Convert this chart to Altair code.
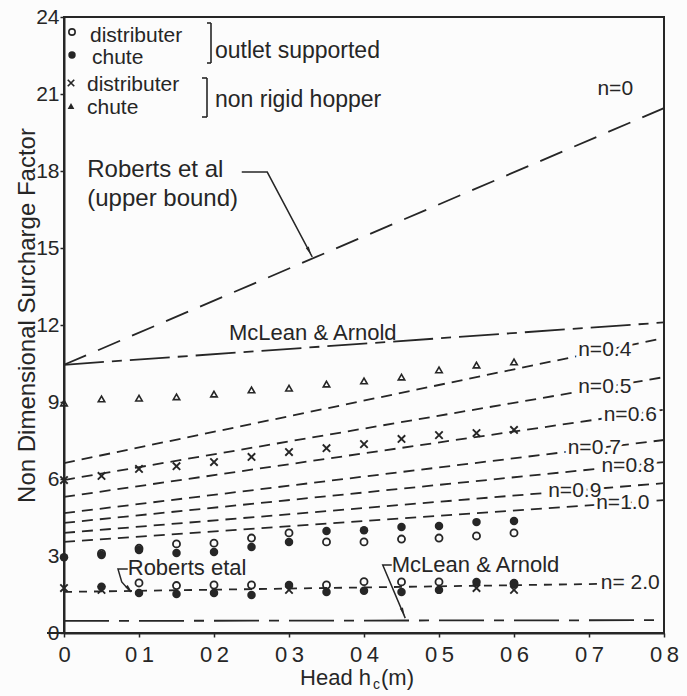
import altair as alt
import pandas as pd

FONT = "Liberation Sans"
INK = "#262626"
BG = "#fcfcfc"

# ---------------------------------------------------------------
# Theory lines (straight): surcharge factor at h = 0 and h = 0.8 m
# ---------------------------------------------------------------
line_names = ["n=0", "McLean & Arnold", "n=0.4", "n=0.5", "n=0.6", "n=0.7",
              "n=0.8", "n=0.9", "n=1.0", "n=2.0", "McLean & Arnold (lower)"]
line_h = [0.0, 0.8]
line_start = [10.45, 10.45, 6.62, 5.96, 5.30, 4.67, 4.29, 3.90, 3.55, 1.60, 0.47]
line_end = [20.45, 12.10, 11.49, 9.97, 8.70, 7.52, 6.66, 5.84, 5.18, 1.95, 0.50]
line_dash = [[24, 13], [40, 8, 10, 8], [11, 7], [11, 7], [11, 7], [11, 7],
             [11, 7], [11, 7], [11, 7], [8, 7], [45, 10, 10, 10]]

# Labels written on the n-lines (h position of label centre)
n_labels = ["n=0", "n=0.4", "n=0.5", "n=0.6", "n=0.7", "n=0.8", "n=0.9", "n=1.0", "n= 2.0"]
n_label_line = ["n=0", "n=0.4", "n=0.5", "n=0.6", "n=0.7", "n=0.8", "n=0.9", "n=1.0", "n=2.0"]
n_label_h = [0.735, 0.721, 0.721, 0.755, 0.707, 0.752, 0.681, 0.745, 0.755]
n_label_lift = [1.55, 0.0, 0.0, 0.0, 0.0, 0.0, 0.0, 0.0, 0.0]

# ---------------------------------------------------------------
# Measured surcharge factors
# ---------------------------------------------------------------
h_all = [0.0, 0.05, 0.10, 0.15, 0.20, 0.25, 0.30, 0.35, 0.40, 0.45, 0.50, 0.55, 0.60]

# non rigid hopper, chute filling
nr_chute = [8.96, 9.12, 9.15, 9.20, 9.31, 9.47, 9.54, 9.70, 9.82, 9.97, 10.25, 10.44, 10.56]
# non rigid hopper, distributer filling
nr_dist = [5.96, 6.12, 6.39, 6.50, 6.66, 6.86, 7.05, 7.20, 7.36, 7.56, 7.71, 7.79, 7.91]
nr_dist_low_h = [0.0, 0.05, 0.30, 0.55, 0.60]
nr_dist_low = [1.75, 1.68, 1.68, 1.75, 1.68]

# outlet supported, chute filling
os_chute = [2.95, 3.04, 3.23, 3.12, 3.16, 3.35, 3.55, 3.97, 4.00, 4.13, 4.17, 4.32, 4.36]
os_chute_low_h = [0.05, 0.10, 0.15, 0.20, 0.25, 0.30, 0.35, 0.40, 0.45, 0.50, 0.55, 0.60]
os_chute_low = [1.80, 1.56, 1.52, 1.56, 1.48, 1.87, 1.60, 1.65, 1.60, 1.68, 1.99, 1.95]

# outlet supported, distributer filling
os_dist_h = [0.05, 0.10, 0.15, 0.20, 0.25, 0.30, 0.35, 0.40, 0.45, 0.50, 0.55, 0.60]
os_dist = [3.10, 3.30, 3.47, 3.50, 3.70, 3.90, 3.55, 3.55, 3.66, 3.70, 3.78, 3.90]
os_dist_low_h = [0.10, 0.15, 0.20, 0.25, 0.35, 0.40, 0.45, 0.50, 0.60]
os_dist_low = [1.95, 1.85, 1.87, 1.87, 1.87, 2.00, 1.99, 1.99, 1.92]

# Annotation texts (h, value of text anchor)
ann_text = ["Roberts et al", "(upper bound)", "McLean & Arnold", "Roberts etal", "McLean & Arnold"]
ann_h = [0.031, 0.031, 0.220, 0.085, 0.437]
ann_v = [18.04, 16.90, 11.69, 2.53, 2.65]
ann_size = [24, 24, 22, 22, 22]

# Leader arrows for the annotations
arrow_id = ["a", "a", "a", "b", "b", "b", "b", "c", "c", "c"]
arrow_h = [0.237, 0.271, 0.331, 0.085, 0.072, 0.077, 0.089, 0.437, 0.425, 0.455]
arrow_v = [17.96, 17.96, 14.65, 2.49, 2.49, 1.99, 1.60, 2.65, 2.65, 0.58]
head_h = [0.327, 0.087, 0.452]
head_v = [14.88, 1.71, 0.82]
head_angle = [152, 138, 157]

# ---------------------------------------------------------------
# Frames
# ---------------------------------------------------------------
lines_df = pd.DataFrame(
    [{"line": n, "h": h, "v": v}
     for n, s, e in zip(line_names, line_start, line_end)
     for h, v in zip(line_h, [s, e])]
)

lookup = dict(zip(line_names, zip(line_start, line_end)))
lab_rows = []
for txt_, ln, hh, lift in zip(n_labels, n_label_line, n_label_h, n_label_lift):
    s, e = lookup[ln]
    lab_rows.append({"label": txt_, "h": hh, "v": s + (e - s) * hh / 0.8 + lift})
nlab_df = pd.DataFrame(lab_rows)

ann_df = pd.DataFrame({"label": ann_text, "h": ann_h, "v": ann_v, "size": ann_size})
arrow_df = pd.DataFrame({"arrow": arrow_id, "h": arrow_h, "v": arrow_v,
                         "order": list(range(len(arrow_id)))})
head_df = pd.DataFrame({"h": head_h, "v": head_v, "angle": head_angle})

tri_df = pd.DataFrame({"h": h_all, "v": nr_chute})
cross_df = pd.DataFrame({"h": h_all + nr_dist_low_h, "v": nr_dist + nr_dist_low})
filled_df = pd.DataFrame({"h": h_all + os_chute_low_h, "v": os_chute + os_chute_low})
open_df = pd.DataFrame({"h": os_dist_h + os_dist_low_h, "v": os_dist + os_dist_low})

# ---------------------------------------------------------------
# Scales / axes
# ---------------------------------------------------------------
x_axis = alt.Axis(
    values=[0, 0.1, 0.2, 0.3, 0.4, 0.5, 0.6, 0.7, 0.8],
    labelExpr="datum.value === 0 ? '0' : replace(format(datum.value, '.1f'), '.', '\u2009')",
    labelFontSize=22, labelPadding=7, tickSize=4, title=None,
    labelFlush=False, labelOverlap=False,
)
y_axis = alt.Axis(
    values=[0, 3, 6, 9, 12, 15, 18, 21, 24],
    labelFontSize=21, labelPadding=1, tickSize=4,
    title="Non Dimensional Surcharge Factor", titleFontSize=24,
    titleFontWeight="normal", titleAngle=270, titleX=-37, titleY=298,
    titleBaseline="middle", titleAlign="center",
    labelFlush=False, labelOverlap=False,
)
X = alt.X("h:Q", scale=alt.Scale(domain=[0, 0.8], nice=False, zero=False), axis=x_axis)
Y = alt.Y("v:Q", scale=alt.Scale(domain=[0, 24], nice=False, zero=False), axis=y_axis)

layers = []

# theory lines
layers.append(
    alt.Chart(lines_df).mark_line(color=INK, strokeWidth=1.8).encode(
        x=X, y=Y, detail="line:N",
        strokeDash=alt.StrokeDash("line:N", legend=None,
                                  scale=alt.Scale(domain=line_names, range=line_dash)),
    )
)

# n labels sitting on their lines (halo first, then text)
for halo in (True, False):
    kw = dict(stroke=BG, strokeWidth=7, color=BG) if halo else dict(color=INK)
    layers.append(
        alt.Chart(nlab_df).mark_text(font=FONT, fontSize=21, align="center",
                                     baseline="middle", **kw)
        .encode(x=X, y=Y, text="label:N")
    )

# measured points
CROSS = "M-1,-1L1,1M-1,1L1,-1"
layers.append(alt.Chart(tri_df).mark_point(shape="triangle-up", filled=False, size=42,
                                           strokeWidth=1.6, color=INK, opacity=1)
              .encode(x=X, y=Y))
layers.append(alt.Chart(cross_df).mark_point(shape=CROSS, filled=False,
                                             size=55, strokeWidth=1.9, color=INK, opacity=1)
              .encode(x=X, y=Y))
layers.append(alt.Chart(open_df).mark_point(shape="circle", filled=False, size=50,
                                            strokeWidth=1.8, color=INK, opacity=1)
              .encode(x=X, y=Y))
layers.append(alt.Chart(filled_df).mark_point(shape="circle", filled=True, size=72,
                                              color=INK, opacity=1)
              .encode(x=X, y=Y))

# annotations + leader arrows
layers.append(
    alt.Chart(ann_df).mark_text(font=FONT, align="left", baseline="middle", color=INK)
    .encode(x=X, y=Y, text="label:N", size=alt.Size("size:Q", scale=None, legend=None))
)
layers.append(
    alt.Chart(arrow_df).mark_line(color=INK, strokeWidth=1.5)
    .encode(x=X, y=Y, detail="arrow:N", order="order:Q")
)
layers.append(
    alt.Chart(head_df).mark_point(shape="M0,-1L0.4,1L-0.4,1Z", filled=True, size=70,
                                  color=INK, opacity=1)
    .encode(x=X, y=Y, angle=alt.Angle("angle:Q", scale=None))
)

# ---------------------------------------------------------------
# Key (top-left), axis title for h, small extras
# ---------------------------------------------------------------
one = pd.DataFrame({"k": [0]})


def txt(s, x, y, size, align="left", baseline="alphabetic"):
    return alt.Chart(one).mark_text(text=s, font=FONT, fontSize=size, align=align,
                                    baseline=baseline, color=INK).encode(
        x=alt.value(x), y=alt.value(y))


def sym(x, y, **kw):
    return alt.Chart(one).mark_point(color=INK, opacity=1, **kw).encode(
        x=alt.value(x), y=alt.value(y))


def rule(x, x2, y, y2, w=1.6):
    return alt.Chart(one).mark_rule(color=INK, strokeWidth=w).encode(
        x=alt.value(x), x2=alt.value(x2), y=alt.value(y), y2=alt.value(y2))


layers += [
    sym(8, 15, shape="circle", filled=False, size=40, strokeWidth=1.6),
    sym(8, 38, shape="circle", filled=True, size=55),
    sym(7, 66, shape=CROSS, filled=False, size=42, strokeWidth=1.7),
    sym(7, 89, shape="triangle-up", filled=True, size=45),
    txt("distributer", 26, 25, 21),
    txt("chute", 28, 47, 21),
    txt("distributer", 23, 74, 21),
    txt("chute", 23, 97, 21),
    rule(147, 147, 6, 46), rule(143, 147, 6, 6), rule(143, 147, 46, 46),
    rule(143, 143, 61, 100), rule(138, 143, 61, 61), rule(138, 143, 100, 100),
    txt("outlet supported", 151, 41, 23),
    txt("non rigid hopper", 151, 90, 23),
    # h axis title with subscript
    txt("Head h", 307, 668, 22, align="right"),
    txt("c", 309, 672, 14),
    txt("(m)", 317, 668, 22),
    # bottom axis line running past the origin
    rule(-17, 0, 616, 616, w=2),
]

chart = (
    alt.layer(*layers)
    .properties(
        width=600, height=616,
        autosize=alt.AutoSizeParams(type="none"),
        padding={"left": 64, "top": 17, "right": 23, "bottom": 63},
        background=BG,
    )
    .configure_view(stroke=INK, strokeWidth=2)
    .configure_axis(
        domainColor=INK, domainWidth=2, tickColor=INK, tickWidth=1.5,
        labelColor=INK, titleColor=INK, labelFont=FONT, titleFont=FONT, grid=False,
    )
)

chart.save("out.html", embed_options={"renderer": "svg", "actions": False})
